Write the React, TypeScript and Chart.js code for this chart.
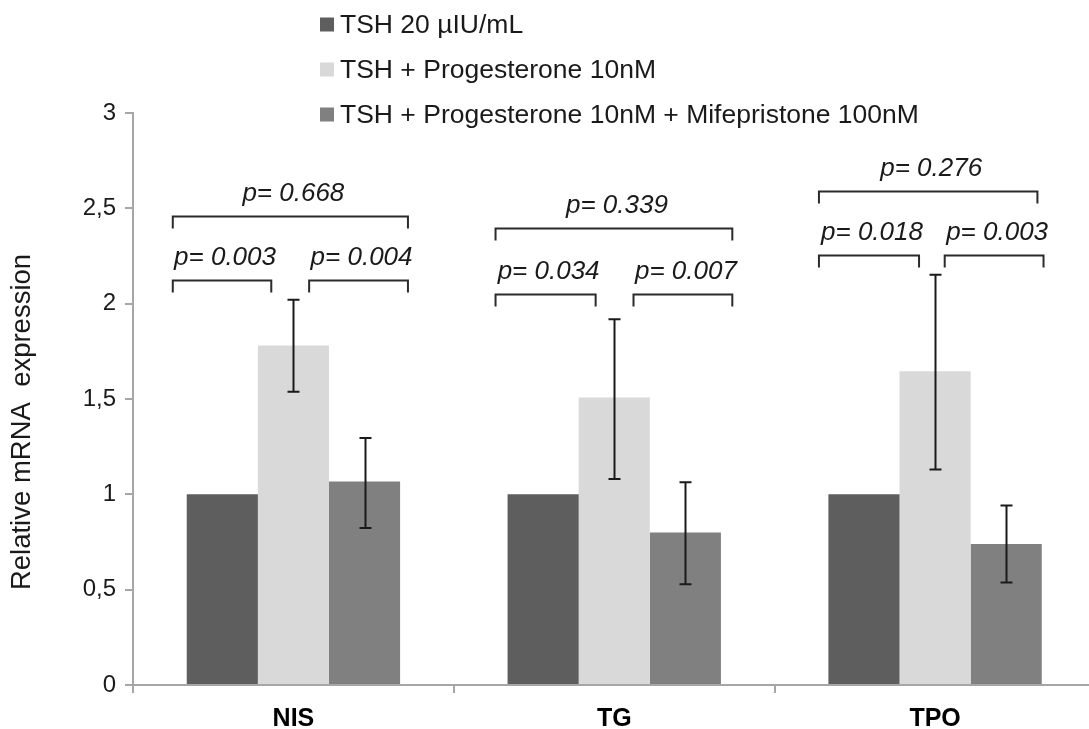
import React, { useEffect, useRef } from "react";
import { Chart, registerables } from "chart.js";

Chart.register(...registerables);

// ---- data ----
const categories = ["NIS", "TG", "TPO"];
const seriesLabels = [
  "TSH 20 µIU/mL",
  "TSH + Progesterone 10nM",
  "TSH + Progesterone 10nM + Mifepristone 100nM",
];
const yAxisTitle = "Relative mRNA  expression";
const tshValues = [1.0, 1.0, 1.0];
const progValues = [1.78, 1.508, 1.645];
const mifeValues = [1.067, 0.8, 0.739];
const progErrLow = [1.538, 1.08, 1.13];
const progErrHigh = [2.021, 1.918, 2.152];
const mifeErrLow = [0.823, 0.529, 0.537];
const mifeErrHigh = [1.295, 1.064, 0.941];
const yTickValues = [0, 0.5, 1, 1.5, 2, 2.5, 3];
const pOverall = ["0.668", "0.339", "0.276"];
const pLeft = ["0.003", "0.034", "0.018"];
const pRight = ["0.004", "0.007", "0.003"];
const bracketOverallLevel = [2.458, 2.397, 2.59];
const bracketPairLevel = [2.126, 2.052, 2.257];

// ---- annotation layout (fractions of category width, relative to category centre) ----
const outerLeft = [-0.376, -0.37, -0.362];
const outerRight = [0.357, 0.368, 0.319];
const innerLeftEnd = [-0.069, -0.058, -0.05];
const innerRightStart = [0.049, 0.06, 0.03];
const innerRightEnd = [0.357, 0.368, 0.338];

const COLORS = ["#5e5e5e", "#d9d9d9", "#808080"];
const FONT = "'Liberation Sans', Arial, sans-serif";

const errorBarPlugin = {
  id: "errorBars",
  afterDatasetsDraw(chart: any) {
    const ctx = chart.ctx;
    const y = chart.scales.y;
    const sets = [
      { ds: 1, lo: progErrLow, hi: progErrHigh },
      { ds: 2, lo: mifeErrLow, hi: mifeErrHigh },
    ];
    ctx.save();
    ctx.strokeStyle = "#1a1a1a";
    ctx.lineWidth = 2;
    sets.forEach((s) => {
      const meta = chart.getDatasetMeta(s.ds);
      meta.data.forEach((el: any, i: number) => {
        const x = Math.round(el.x) + 0.5;
        const y1 = y.getPixelForValue(s.lo[i]);
        const y2 = y.getPixelForValue(s.hi[i]);
        ctx.beginPath();
        ctx.moveTo(x, y1);
        ctx.lineTo(x, y2);
        ctx.moveTo(x - 6, y1);
        ctx.lineTo(x + 6, y1);
        ctx.moveTo(x - 6, y2);
        ctx.lineTo(x + 6, y2);
        ctx.stroke();
      });
    });
    ctx.restore();
  },
};

const bracketPlugin = {
  id: "brackets",
  afterDatasetsDraw(chart: any) {
    const ctx = chart.ctx;
    const xs = chart.scales.x;
    const ys = chart.scales.y;
    const catW = xs.getPixelForValue(1) - xs.getPixelForValue(0);
    const leg = 12;
    const drawBracket = (x1: number, x2: number, yv: number, text: string) => {
      const py = Math.round(ys.getPixelForValue(yv)) + 0.5;
      ctx.beginPath();
      ctx.moveTo(x1, py + leg);
      ctx.lineTo(x1, py);
      ctx.lineTo(x2, py);
      ctx.lineTo(x2, py + leg);
      ctx.stroke();
      ctx.fillText("p= " + text, (x1 + x2) / 2 + 3, py - 16);
    };
    ctx.save();
    ctx.strokeStyle = "#2b2b2b";
    ctx.lineWidth = 2;
    ctx.fillStyle = "#1a1a1a";
    ctx.font = `italic 26px ${FONT}`;
    ctx.textAlign = "center";
    ctx.textBaseline = "alphabetic";
    categories.forEach((_, i) => {
      const c = xs.getPixelForValue(i);
      drawBracket(c + outerLeft[i] * catW, c + outerRight[i] * catW, bracketOverallLevel[i], pOverall[i]);
      drawBracket(c + outerLeft[i] * catW, c + innerLeftEnd[i] * catW, bracketPairLevel[i], pLeft[i]);
      drawBracket(c + innerRightStart[i] * catW, c + innerRightEnd[i] * catW, bracketPairLevel[i], pRight[i]);
    });
    ctx.restore();
  },
};

const legendPlugin = {
  id: "customLegend",
  afterDraw(chart: any) {
    const ctx = chart.ctx;
    ctx.save();
    ctx.font = `26.5px ${FONT}`;
    ctx.textBaseline = "middle";
    ctx.textAlign = "left";
    chart.data.datasets.forEach((ds: any, i: number) => {
      const cy = 24.5 + i * 45;
      ctx.fillStyle = ds.backgroundColor;
      ctx.fillRect(320, cy - 7, 14, 14);
      ctx.fillStyle = "#1a1a1a";
      ctx.fillText(ds.label, 340, cy + 1);
    });
    // y-axis title
    ctx.font = `27.5px ${FONT}`;
    ctx.textAlign = "center";
    ctx.textBaseline = "middle";
    ctx.translate(22, 422);
    ctx.rotate(-Math.PI / 2);
    ctx.fillText(yAxisTitle, 0, 0);
    ctx.restore();
  },
};

export default function App() {
  const ref = useRef<HTMLCanvasElement | null>(null);
  useEffect(() => {
    if (!ref.current) return;
    const chart = new Chart(ref.current, {
      type: "bar",
      data: {
        labels: categories,
        datasets: [
          { label: seriesLabels[0], data: tshValues, backgroundColor: COLORS[0] },
          { label: seriesLabels[1], data: progValues, backgroundColor: COLORS[1] },
          { label: seriesLabels[2], data: mifeValues, backgroundColor: COLORS[2] },
        ],
      },
      options: {
        responsive: false,
        animation: false,
        devicePixelRatio: 1,
        layout: { padding: { top: 113, right: 4.5, left: 0, bottom: 0 } },
        datasets: { bar: { categoryPercentage: 0.665, barPercentage: 1, borderWidth: 0 } },
        plugins: { legend: { display: false }, tooltip: { enabled: false }, title: { display: false } },
        scales: {
          x: {
            afterFit(scale: any) {
              scale.height = 44;
            },
            grid: { display: true, drawOnChartArea: false, drawTicks: true, tickLength: 8, color: "#a6a6a6", lineWidth: 2, offset: true },
            border: { display: true, color: "#a6a6a6", width: 2 },
            ticks: { color: "#000", font: { family: FONT, size: 25, weight: "bold" }, padding: 11 },
          },
          y: {
            min: 0,
            max: 3,
            afterFit(scale: any) {
              scale.width = 133;
            },
            afterBuildTicks(scale: any) {
              scale.ticks = yTickValues.map((v) => ({ value: v }));
            },
            grid: { display: true, drawOnChartArea: false, drawTicks: true, tickLength: 8, color: "#a6a6a6", lineWidth: 2 },
            border: { display: true, color: "#a6a6a6", width: 2 },
            ticks: {
              color: "#1a1a1a",
              font: { family: FONT, size: 24 },
              padding: 9,
              callback: (v: any) => String(v).replace(".", ","),
            },
            title: { display: false },
          },
        },
      },
      plugins: [errorBarPlugin, bracketPlugin, legendPlugin],
    });
    return () => chart.destroy();
  }, []);
  return (
    <div style={{ position: "fixed", left: 0, top: 0, width: 1089, height: 729, overflow: "hidden", background: "#fff" }}>
      <canvas ref={ref} width={1100} height={729} style={{ display: "block" }} />
    </div>
  );
}
